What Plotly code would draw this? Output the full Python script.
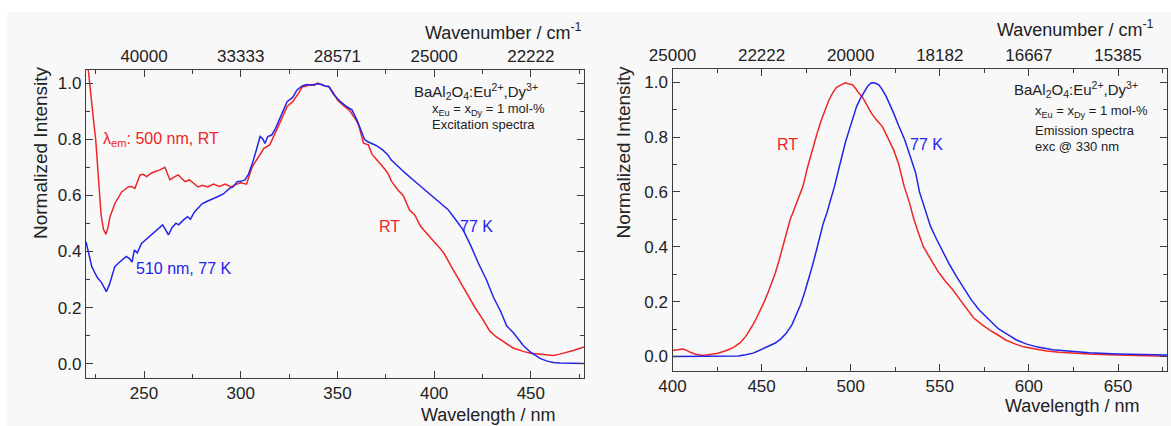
import plotly.graph_objects as go

# ---------------- Data: excitation spectra (left panel) ----------------
exc_rt_wl = [221.0, 222.5, 224, 225, 226.7, 227.8, 229, 230.3, 231.5, 232.4, 235, 238.5, 240, 241.9,
             243.5, 245.3, 247.9, 249.5, 251.4, 253.5, 255.7, 258, 260.8, 263.4, 265.5, 267.7, 269.5,
             271.2, 273.5, 275.5, 278, 280, 283, 286, 289, 292, 295, 298, 300, 303, 306, 309, 312,
             315, 318, 321, 324, 327, 329.5, 331.8, 334, 336, 338, 339.8, 342, 345.7, 348, 350, 353.6,
             356, 359.6, 361, 363.5, 366, 368, 370, 373.4, 376, 378, 381.3, 384, 387.3, 390, 393, 396,
             399.2, 402, 405.1, 409, 412.9, 417, 420.9, 425, 428.9, 432, 436.6, 440.8, 446.5, 450,
             456.5, 461.5, 465, 468.4, 472, 477.5]
exc_rt_int = [1.06, 0.95, 0.86, 0.80, 0.62, 0.53, 0.48, 0.461, 0.49, 0.524, 0.572, 0.613, 0.62, 0.631,
              0.632, 0.625, 0.673, 0.675, 0.667, 0.678, 0.685, 0.690, 0.700, 0.655, 0.665, 0.673, 0.660,
              0.649, 0.655, 0.643, 0.630, 0.636, 0.630, 0.640, 0.632, 0.640, 0.630, 0.640, 0.645, 0.640,
              0.703, 0.735, 0.768, 0.780, 0.822, 0.870, 0.917, 0.935, 0.960, 0.986, 0.990, 0.995, 0.992,
              1.0, 0.993, 0.986, 0.965, 0.94, 0.917, 0.905, 0.869, 0.85, 0.786, 0.78, 0.745, 0.73, 0.703,
              0.68, 0.65, 0.619, 0.60, 0.548, 0.53, 0.49, 0.465, 0.441, 0.42, 0.394, 0.345, 0.298, 0.25,
              0.203, 0.16, 0.115, 0.096, 0.075, 0.056, 0.043, 0.037, 0.033, 0.029, 0.034, 0.040, 0.047,
              0.060]

exc_77_wl = [220, 221.5, 223, 224.5, 226, 228, 229.5, 230.5, 232, 234.9, 237, 240.8, 242.5, 243.8, 245,
             246.5, 248.7, 250.5, 252.7, 255, 257, 259.6, 261, 262.6, 264.5, 266.5, 268, 270, 272.5, 274,
             276, 278.4, 280, 282.4, 285, 288.3, 291, 294.2, 296, 298.2, 300, 302.2, 304, 306.1, 308, 310,
             311.5, 312.5, 314, 316, 318, 321, 324, 327, 329, 331.8, 334, 336, 338, 339.8, 342, 343.5,
             345.6, 348, 351.6, 355, 357.5, 360, 362.5, 364, 365.5, 368, 370, 373.4, 376, 378, 381.3, 385,
             389.2, 393, 397.1, 401, 405.1, 407.1, 411, 415, 419, 422.9, 427, 430.8, 434.5, 437.5, 441,
             446.1, 450, 454.8, 458, 461.6, 465, 470, 477.5]
exc_77_int = [0.435, 0.39, 0.346, 0.325, 0.305, 0.29, 0.27, 0.257, 0.28, 0.346, 0.36, 0.382, 0.375, 0.362,
              0.405, 0.395, 0.429, 0.440, 0.453, 0.465, 0.480, 0.495, 0.480, 0.459, 0.485, 0.501, 0.495,
              0.510, 0.524, 0.515, 0.540, 0.560, 0.570, 0.578, 0.585, 0.596, 0.605, 0.625, 0.630, 0.649,
              0.650, 0.655, 0.675, 0.715, 0.760, 0.810, 0.800, 0.785, 0.810, 0.815, 0.839, 0.890, 0.934,
              0.950, 0.975, 0.990, 0.995, 0.993, 0.996, 0.998, 0.995, 0.99, 0.988, 0.96, 0.934, 0.915,
              0.905, 0.87, 0.827, 0.80, 0.792, 0.785, 0.778, 0.762, 0.745, 0.725, 0.703, 0.680, 0.655,
              0.632, 0.608, 0.585, 0.560, 0.550, 0.515, 0.477, 0.42, 0.358, 0.30, 0.235, 0.185, 0.135,
              0.11, 0.065, 0.04, 0.019, 0.01, 0.004, 0.002, 0.001, 0.001]

# ---------------- Data: emission spectra (right panel) ----------------
em_rt_wl = [400, 403, 405.8, 408, 410, 413, 416.2, 419, 422.4, 425.5, 428.6, 432, 434.9, 438, 441.1, 443,
            445.2, 447.3, 449.4, 451.5, 453.5, 455.6, 457.7, 459.8, 461.8, 464, 466, 467, 470.1, 473.2,
            475.8, 478.4, 481, 483.6, 485.7, 487.8, 490, 491.9, 494.5, 497.1, 499, 501.2, 503, 504.5,
            506.4, 509, 511.6, 514.5, 517.8, 521, 524.1, 527, 530, 533, 535, 537.5, 540.7, 545, 549, 553,
            557.3, 561, 565.6, 569, 573.9, 578, 582.2, 587, 592.5, 597, 602.9, 610, 617, 623.7, 634,
            644.4, 660, 677.5]
em_rt_int = [0.022, 0.025, 0.027, 0.022, 0.015, 0.008, 0.004, 0.005, 0.008, 0.012, 0.018, 0.026, 0.036,
             0.05, 0.073, 0.092, 0.116, 0.142, 0.170, 0.20, 0.231, 0.265, 0.304, 0.350, 0.401, 0.450,
             0.498, 0.515, 0.571, 0.620, 0.690, 0.753, 0.810, 0.863, 0.90, 0.935, 0.962, 0.980, 0.990,
             0.998, 0.993, 0.99, 0.975, 0.96, 0.948, 0.915, 0.887, 0.862, 0.838, 0.795, 0.753, 0.70,
             0.62, 0.56, 0.51, 0.46, 0.401, 0.353, 0.310, 0.275, 0.243, 0.21, 0.170, 0.14, 0.115, 0.096,
             0.080, 0.06, 0.045, 0.035, 0.028, 0.02, 0.015, 0.012, 0.009, 0.006, 0.003, 0.001]

em_77_wl = [400, 420, 437, 441, 445.2, 448, 451.5, 455, 457.7, 461, 463.9, 467, 470.1, 472, 474.3, 476.4,
            478.4, 480.5, 482.6, 484.6, 486.7, 488.8, 490.9, 493, 495, 497, 499.2, 501.2, 503.3, 505.4,
            507.5, 509.5, 511.6, 513.7, 515.8, 517.8, 519.9, 522, 524.1, 527, 530.3, 533.4, 536.5,
            538.6, 541.7, 544.8, 548, 551, 555, 559.3, 563.5, 567.6, 572, 578, 583, 588.4, 593, 598.8,
            605, 613.3, 623.9, 634, 650, 665, 677.5]
em_77_int = [0.0, 0.0, 0.002, 0.006, 0.012, 0.02, 0.030, 0.04, 0.049, 0.065, 0.085, 0.115, 0.158, 0.19,
             0.237, 0.28, 0.328, 0.38, 0.437, 0.485, 0.525, 0.571, 0.620, 0.675, 0.729, 0.78, 0.826, 0.87,
             0.911, 0.94, 0.966, 0.985, 0.998, 0.997, 0.99, 0.972, 0.948, 0.92, 0.887, 0.84, 0.790, 0.73,
             0.668, 0.60, 0.54, 0.474, 0.43, 0.389, 0.34, 0.292, 0.248, 0.207, 0.17, 0.130, 0.10, 0.079,
             0.06, 0.045, 0.034, 0.024, 0.017, 0.013, 0.009, 0.006, 0.005]

# ---------------- Tick labels ----------------
left_x_ticks = [250, 300, 350, 400, 450]
left_top_labels = ["40000", "33333", "28571", "25000", "22222"]
left_minor = [225, 275, 325, 375, 425, 475]
right_x_ticks = [400, 450, 500, 550, 600, 650]
right_top_labels = ["25000", "22222", "20000", "18182", "16667", "15385"]
right_minor = [425, 475, 525, 575, 625, 675]

RED = "#ee2626"
BLUE = "#2424e8"
AX = "#3c3c3c"
FONT = "Liberation Sans, Arial, sans-serif"
BG = "#f8f8f9"

W, H = 1171, 426

def px(x):
    return x / W

def py(y):
    return 1 - y / H

fig = go.Figure()

fig.add_trace(go.Scatter(x=exc_rt_wl, y=exc_rt_int, mode="lines", line=dict(color=RED, width=1.5),
                         xaxis="x", yaxis="y", showlegend=False, hoverinfo="skip"))
fig.add_trace(go.Scatter(x=exc_77_wl, y=exc_77_int, mode="lines", line=dict(color=BLUE, width=1.5),
                         xaxis="x", yaxis="y", showlegend=False, hoverinfo="skip"))
fig.add_trace(go.Scatter(x=em_rt_wl, y=em_rt_int, mode="lines", line=dict(color=RED, width=1.5),
                         xaxis="x3", yaxis="y2", showlegend=False, hoverinfo="skip"))
fig.add_trace(go.Scatter(x=em_77_wl, y=em_77_int, mode="lines", line=dict(color=BLUE, width=1.5),
                         xaxis="x3", yaxis="y2", showlegend=False, hoverinfo="skip"))
# hidden traces so the top (wavenumber) axes are drawn
fig.add_trace(go.Scatter(x=[300], y=[-5], mode="markers", marker=dict(opacity=0), xaxis="x2", yaxis="y",
                         showlegend=False, hoverinfo="skip"))
fig.add_trace(go.Scatter(x=[500], y=[-5], mode="markers", marker=dict(opacity=0), xaxis="x4", yaxis="y2",
                         showlegend=False, hoverinfo="skip"))

tickfont = dict(family=FONT, size=17, color="#222")
common_x = dict(showline=True, linecolor=AX, linewidth=1.3, ticks="inside", ticklen=7, tickwidth=1.3,
                tickcolor=AX, showgrid=False, zeroline=False, tickfont=tickfont, automargin=False)
common_y = dict(showline=True, linecolor=AX, linewidth=1.3, ticks="inside", ticklen=7, tickwidth=1.3,
                tickcolor=AX, showgrid=False, zeroline=False, tickfont=tickfont, mirror="ticks",
                dtick=0.2, tick0=0, tickformat=".1f", automargin=False,
                minor=dict(ticks="inside", ticklen=4, tickwidth=1.2, tickcolor=AX, dtick=0.1, tick0=0))

L_dom = [px(86), px(584)]
L_ydom = [py(377.7), py(70)]
R_dom = [px(672.5), px(1167)]
R_ydom = [py(370.7), py(69)]

fig.update_layout(
    width=W, height=H,
    margin=dict(l=0, r=0, t=0, b=0, pad=0, autoexpand=False),
    paper_bgcolor=BG, plot_bgcolor=BG,
    font=dict(family=FONT, color="#222"),
    xaxis=dict(common_x, domain=L_dom, range=[220, 477.5], anchor="y", tickmode="array",
               tickvals=left_x_ticks, mirror=True,
               minor=dict(ticks="inside", ticklen=4, tickwidth=1.2, tickcolor=AX, tickvals=left_minor)),
    xaxis2=dict(common_x, domain=L_dom, range=[220, 477.5], anchor="y", overlaying="x", side="top",
                tickmode="array", tickvals=left_x_ticks, ticktext=left_top_labels,
                minor=dict(ticks="inside", ticklen=4, tickwidth=1.2, tickcolor=AX, tickvals=left_minor)),
    yaxis=dict(common_y, domain=L_ydom, range=[-0.05, 1.047], anchor="x"),
    xaxis3=dict(common_x, domain=R_dom, range=[400, 677.5], anchor="y2", tickmode="array",
                tickvals=right_x_ticks, mirror=True,
                minor=dict(ticks="inside", ticklen=4, tickwidth=1.2, tickcolor=AX, tickvals=right_minor)),
    xaxis4=dict(common_x, domain=R_dom, range=[400, 677.5], anchor="y2", overlaying="x3", side="top",
                tickmode="array", tickvals=right_x_ticks, ticktext=right_top_labels,
                minor=dict(ticks="inside", ticklen=4, tickwidth=1.2, tickcolor=AX, tickvals=right_minor)),
    yaxis2=dict(common_y, domain=R_ydom, range=[-0.052, 1.048], anchor="x3"),
)

# white strips at the top and left edges of the image
fig.add_shape(type="rect", xref="paper", yref="paper", x0=0, x1=1, y0=py(12), y1=1,
              fillcolor="white", line=dict(width=0), layer="below")
fig.add_shape(type="rect", xref="paper", yref="paper", x0=0, x1=px(7), y0=0, y1=1,
              fillcolor="white", line=dict(width=0), layer="below")

ann = []
def a(text, x, y, xref="paper", yref="paper", xanchor="center", yanchor="middle", size=16, color="#222",
      angle=0):
    ann.append(dict(text=text, x=x, y=y, xref=xref, yref=yref, xanchor=xanchor, yanchor=yanchor,
                    showarrow=False, textangle=angle, font=dict(family=FONT, size=size, color=color)))

# axis titles
a("Wavelength / nm", px(557), py(415), xanchor="right", size=18)
a("Wavelength / nm", px(1141), py(406), xanchor="right", size=18)
a("Wavenumber / cm<sup>-1</sup>", px(584), py(32), xanchor="right", size=18)
a("Wavenumber / cm<sup>-1</sup>", px(1156), py(29), xanchor="right", size=18)
a("Normalized Intensity", px(41), py(153), size=19, angle=-90)
a("Normalized Intensity", px(622.5), py(152), size=19, angle=-90)

# left panel text
a("BaAl<sub>2</sub>O<sub>4</sub>:Eu<sup>2+</sup>,Dy<sup>3+</sup>", 388.4, 0.969, "x", "y", xanchor="left", size=15)
a("x<sub>Eu</sub> = x<sub>Dy</sub> = 1 mol-%", 397.9, 0.905, "x", "y", xanchor="left", size=13)
a("Excitation spectra", 397.9, 0.851, "x", "y", xanchor="left", size=13)
a("λ<sub>em</sub>: 500 nm, RT", 227.8, 0.798, "x", "y", xanchor="left", size=16, color=RED)
a("510 nm, 77 K", 244.8, 0.338, "x", "y", xanchor="left", size=16, color=BLUE)
a("RT", 376.9, 0.489, "x", "y", size=16, color=RED)
a("77 K", 421.8, 0.489, "x", "y", size=16, color=BLUE)

# right panel text
a("BaAl<sub>2</sub>O<sub>4</sub>:Eu<sup>2+</sup>,Dy<sup>3+</sup>", 590.7, 0.972, "x3", "y2", xanchor="left", size=15)
a("x<sub>Eu</sub> = x<sub>Dy</sub> = 1 mol-%", 602.5, 0.892, "x3", "y2", xanchor="left", size=13)
a("Emission spectra", 602.5, 0.822, "x3", "y2", xanchor="left", size=13)
a("exc @ 330 nm", 602.5, 0.764, "x3", "y2", xanchor="left", size=13)
a("RT", 464.3, 0.771, "x3", "y2", size=16, color=RED)
a("77 K", 542.4, 0.771, "x3", "y2", size=16, color=BLUE)

fig.update_layout(annotations=ann)

fig.write_html("out.html", config={"displayModeBar": False},
               post_script="document.body.style.margin='0';")
